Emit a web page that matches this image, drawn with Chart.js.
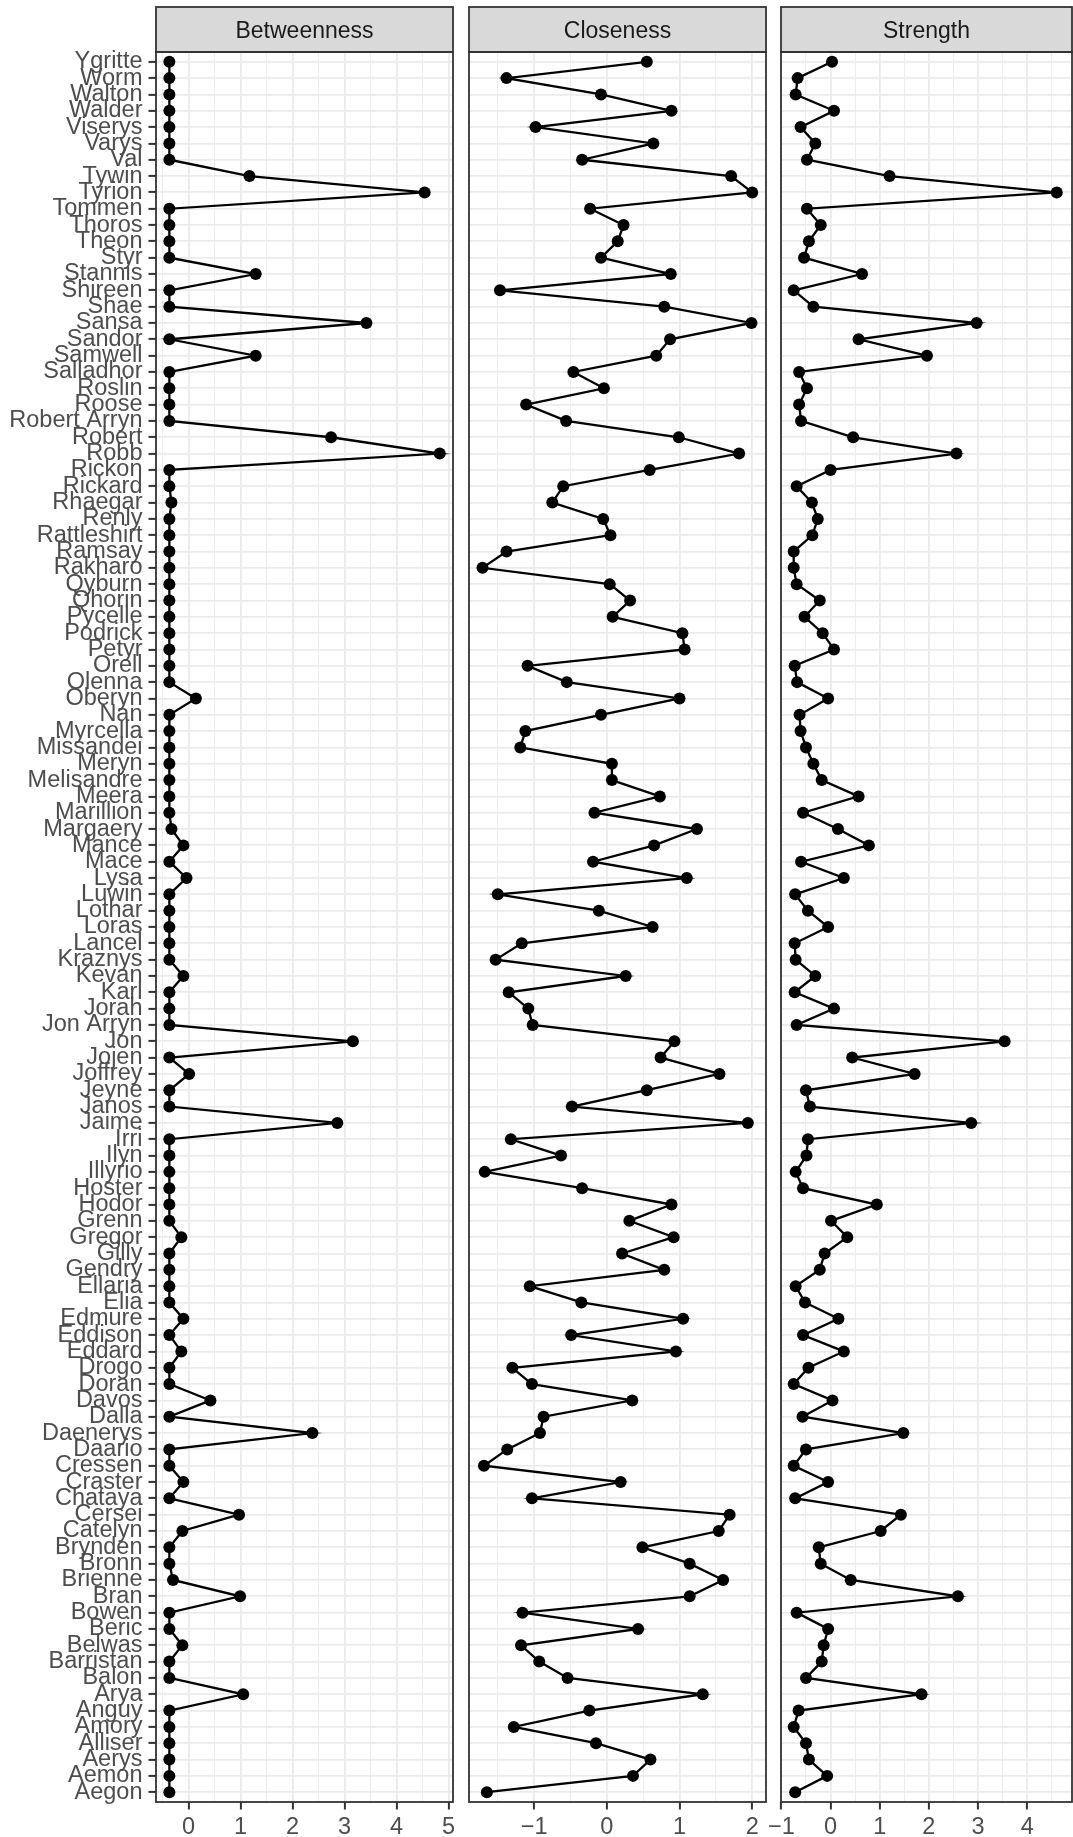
<!DOCTYPE html>
<html>
<head>
<meta charset="utf-8">
<title>Centrality plot</title>
<script src="https://cdn.jsdelivr.net/npm/chart.js@4.4.1/dist/chart.umd.min.js"></script>
<style>
  html, body { margin: 0; padding: 0; background: #fff; overflow: hidden; }
  #page { position: relative; width: 1073px; height: 1837px; overflow: hidden; }
  #page canvas { position: absolute; top: 0; }
</style>
</head>
<body>
<div id="page">
  <canvas id="betweenness" width="463" height="1837" style="left:0px"></canvas>
  <canvas id="closeness" width="317" height="1837" style="left:459px"></canvas>
  <canvas id="strength" width="317" height="1837" style="left:761px"></canvas>
</div>
<script>
// nodes, top to bottom as they appear on the y axis
const names = [
  'Ygritte', 'Worm', 'Walton', 'Walder', 'Viserys', 'Varys', 'Val', 'Tywin', 'Tyrion', 'Tommen',
  'Thoros', 'Theon', 'Styr', 'Stannis', 'Shireen', 'Shae', 'Sansa', 'Sandor', 'Samwell', 'Salladhor',
  'Roslin', 'Roose', 'Robert Arryn', 'Robert', 'Robb', 'Rickon', 'Rickard', 'Rhaegar', 'Renly', 'Rattleshirt',
  'Ramsay', 'Rakharo', 'Qyburn', 'Qhorin', 'Pycelle', 'Podrick', 'Petyr', 'Orell', 'Olenna', 'Oberyn',
  'Nan', 'Myrcella', 'Missandei', 'Meryn', 'Melisandre', 'Meera', 'Marillion', 'Margaery', 'Mance', 'Mace',
  'Lysa', 'Luwin', 'Lothar', 'Loras', 'Lancel', 'Kraznys', 'Kevan', 'Karl', 'Jorah', 'Jon Arryn',
  'Jon', 'Jojen', 'Joffrey', 'Jeyne', 'Janos', 'Jaime', 'Irri', 'Ilyn', 'Illyrio', 'Hoster',
  'Hodor', 'Grenn', 'Gregor', 'Gilly', 'Gendry', 'Ellaria', 'Elia', 'Edmure', 'Eddison', 'Eddard',
  'Drogo', 'Doran', 'Davos', 'Dalla', 'Daenerys', 'Daario', 'Cressen', 'Craster', 'Chataya', 'Cersei',
  'Catelyn', 'Brynden', 'Bronn', 'Brienne', 'Bran', 'Bowen', 'Beric', 'Belwas', 'Barristan', 'Balon',
  'Arya', 'Anguy', 'Amory', 'Alliser', 'Aerys', 'Aemon', 'Aegon'
];

const betweenness = [
  -0.37, -0.37, -0.37, -0.37, -0.37, -0.37, -0.37, 1.17, 4.54, -0.37,
  -0.37, -0.37, -0.37, 1.29, -0.37, -0.37, 3.42, -0.37, 1.29, -0.37,
  -0.37, -0.37, -0.37, 2.74, 4.83, -0.37, -0.37, -0.33, -0.37, -0.37,
  -0.37, -0.37, -0.37, -0.37, -0.37, -0.37, -0.37, -0.37, -0.37, 0.14,
  -0.37, -0.37, -0.37, -0.37, -0.37, -0.37, -0.37, -0.33, -0.10, -0.37,
  -0.04, -0.37, -0.37, -0.37, -0.37, -0.37, -0.10, -0.37, -0.37, -0.37,
  3.16, -0.37, 0.01, -0.37, -0.37, 2.86, -0.37, -0.37, -0.37, -0.37,
  -0.37, -0.37, -0.14, -0.37, -0.37, -0.37, -0.37, -0.10, -0.37, -0.14,
  -0.37, -0.37, 0.42, -0.37, 2.38, -0.37, -0.37, -0.10, -0.37, 0.97,
  -0.12, -0.37, -0.37, -0.30, 0.99, -0.37, -0.37, -0.12, -0.37, -0.37,
  1.05, -0.37, -0.37, -0.37, -0.37, -0.37, -0.37
];

const closeness = [
  0.55, -1.38, -0.08, 0.89, -0.98, 0.64, -0.34, 1.71, 2.00, -0.23,
  0.23, 0.15, -0.08, 0.88, -1.47, 0.79, 1.99, 0.87, 0.68, -0.46,
  -0.04, -1.11, -0.56, 0.99, 1.82, 0.59, -0.60, -0.75, -0.05, 0.05,
  -1.38, -1.71, 0.04, 0.32, 0.08, 1.04, 1.07, -1.09, -0.55, 1.00,
  -0.08, -1.12, -1.19, 0.07, 0.07, 0.73, -0.17, 1.24, 0.65, -0.19,
  1.10, -1.50, -0.11, 0.63, -1.17, -1.53, 0.26, -1.35, -1.08, -1.02,
  0.93, 0.74, 1.55, 0.55, -0.48, 1.94, -1.32, -0.63, -1.68, -0.34,
  0.89, 0.31, 0.92, 0.21, 0.79, -1.06, -0.35, 1.05, -0.49, 0.95,
  -1.30, -1.03, 0.35, -0.87, -0.92, -1.37, -1.69, 0.19, -1.03, 1.69,
  1.54, 0.49, 1.14, 1.60, 1.14, -1.16, 0.43, -1.18, -0.93, -0.54,
  1.32, -0.24, -1.28, -0.15, 0.60, 0.36, -1.65
];

const strength = [
  0.03, -0.67, -0.71, 0.07, -0.61, -0.31, -0.48, 1.20, 4.60, -0.48,
  -0.20, -0.44, -0.54, 0.64, -0.75, -0.35, 2.97, 0.57, 1.96, -0.64,
  -0.48, -0.64, -0.60, 0.46, 2.56, 0.00, -0.69, -0.38, -0.26, -0.37,
  -0.75, -0.75, -0.69, -0.22, -0.53, -0.16, 0.07, -0.73, -0.68, -0.05,
  -0.63, -0.61, -0.50, -0.35, -0.18, 0.57, -0.56, 0.15, 0.78, -0.60,
  0.27, -0.72, -0.46, -0.05, -0.73, -0.71, -0.31, -0.73, 0.07, -0.69,
  3.54, 0.44, 1.71, -0.50, -0.42, 2.86, -0.46, -0.49, -0.71, -0.56,
  0.94, 0.01, 0.34, -0.12, -0.22, -0.71, -0.52, 0.16, -0.56, 0.27,
  -0.45, -0.75, 0.04, -0.57, 1.48, -0.50, -0.75, -0.05, -0.72, 1.43,
  1.02, -0.24, -0.20, 0.41, 2.59, -0.69, -0.05, -0.14, -0.18, -0.50,
  1.85, -0.65, -0.75, -0.50, -0.44, -0.07, -0.72
];

// x axis breaks per facet (labelled) and the minor grid between them
const betweennessTicks = [0, 1, 2, 3, 4, 5];
const betweennessMinor = [-0.5, 0.5, 1.5, 2.5, 3.5, 4.5];
const closenessTicks = [-1, 0, 1, 2];
const closenessMinor = [-1.5, -0.5, 0.5, 1.5];
const strengthTicks = [-1, 0, 1, 2, 3, 4];
const strengthMinor = [-0.5, 0.5, 1.5, 2.5, 3.5, 4.5];

Chart.defaults.font.family = '"Liberation Sans", Arial, Helvetica, sans-serif';

const fmt = (v) => (v < 0 ? '\u2212' + Math.abs(v) : String(v));

// grey strip on top of each panel plus the panel border
const stripPlugin = {
  id: 'strip',
  afterDraw(chart, args, opts) {
    const { ctx, chartArea: a } = chart;
    const w = a.right - a.left;
    ctx.save();
    ctx.fillStyle = '#D9D9D9';
    ctx.fillRect(a.left, 7, w, a.top - 7);
    ctx.strokeStyle = '#333333';
    ctx.lineWidth = 1.8;
    ctx.strokeRect(a.left, 7, w, a.top - 7);
    ctx.strokeRect(a.left, a.top, w, a.bottom - a.top);
    ctx.fillStyle = '#1A1A1A';
    ctx.font = '23px "Liberation Sans", Arial, sans-serif';
    ctx.textAlign = 'center';
    ctx.textBaseline = 'alphabetic';
    ctx.fillText(opts.title, a.left + w / 2, 38);
    ctx.restore();
  }
};

function drawPanel(id, title, values, range, majors, minors, showNames, padLeft, padRight) {
  const allTicks = majors.concat(minors).sort((a, b) => a - b);
  const isMajor = (c) => c.tick && majors.includes(c.tick.value);

  return new Chart(document.getElementById(id), {
    type: 'line',
    data: {
      datasets: [{
        data: names.map((n, i) => ({ x: values[i], y: i })),
        borderColor: '#000000',
        borderWidth: 2.3,
        pointRadius: 6,
        pointHoverRadius: 6,
        pointBackgroundColor: '#000000',
        pointBorderWidth: 0,
        tension: 0
      }]
    },
    options: {
      responsive: false,
      animation: false,
      indexAxis: 'y',
      events: [],
      layout: { padding: { top: 52, bottom: 0, left: padLeft, right: padRight } },
      plugins: {
        legend: { display: false },
        tooltip: { enabled: false },
        strip: { title: title }
      },
      scales: {
        x: {
          type: 'linear',
          position: 'bottom',
          min: range[0],
          max: range[1],
          afterBuildTicks: (s) => { s.ticks = allTicks.map((v) => ({ value: v })); },
          afterFit: (s) => { s.height = 35; },
          border: { display: false },
          grid: {
            color: '#EBEBEB',
            lineWidth: (c) => (isMajor(c) ? 1.8 : 0.9),
            tickLength: 7.5,
            tickWidth: 2,
            tickColor: (c) => (isMajor(c) ? '#333333' : 'rgba(0,0,0,0)')
          },
          ticks: {
            autoSkip: false,
            maxRotation: 0,
            padding: 4,
            color: '#4D4D4D',
            font: { size: 23.5 },
            callback: (v) => (majors.includes(v) ? fmt(v) : '')
          }
        },
        y: {
          type: 'linear',
          reverse: true,
          min: -0.6,
          max: names.length - 1 + 0.6,
          afterBuildTicks: (s) => { s.ticks = names.map((n, i) => ({ value: i })); },
          afterFit: (s) => { s.width = showNames ? 156 : 0; },
          border: { display: false },
          grid: {
            color: '#EBEBEB',
            lineWidth: 1.8,
            drawTicks: showNames,
            tickLength: 7.5,
            tickWidth: 2,
            tickColor: '#333333'
          },
          ticks: {
            display: showNames,
            autoSkip: false,
            padding: 6,
            color: '#4D4D4D',
            font: { size: 23.5 },
            callback: (v) => names[v]
          }
        }
      }
    },
    plugins: [stripPlugin]
  });
}

drawPanel('betweenness', 'Betweenness', betweenness, [-0.627, 5.085],
  betweennessTicks, betweennessMinor, true, 0, 10);
drawPanel('closeness', 'Closeness', closeness, [-1.896, 2.19],
  closenessTicks, closenessMinor, false, 10, 10);
drawPanel('strength', 'Strength', strength, [-1.008, 4.91],
  strengthTicks, strengthMinor, false, 20, 0);
</script>
</body>
</html>
